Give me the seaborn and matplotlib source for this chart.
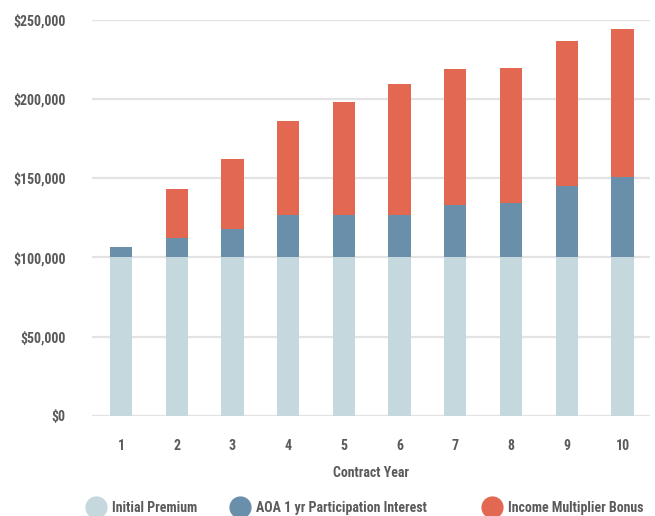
import numpy as np
import pandas as pd
import matplotlib
matplotlib.use('Agg')
import matplotlib.pyplot as plt
from matplotlib.lines import Line2D
from matplotlib.ticker import FuncFormatter
import seaborn as sns

# data
years = [1, 2, 3, 4, 5, 6, 7, 8, 9, 10]
initial_premium = [100000] * 10
aoa_interest = [6600, 12200, 17900, 27100, 27100, 27100, 33200, 34300, 45200, 50700]
multiplier_bonus = [0, 30900, 44100, 59100, 70900, 82200, 85800, 85400, 91400, 93500]
series_names = ['Initial Premium', 'AOA 1 yr Participation Interest', 'Income Multiplier Bonus']

C_PREM = '#C4D8DE'
C_AOA = '#6A8FAA'
C_BONUS = '#E26852'
TXT = '#5A5A5A'

sns.set_theme(style='white')
plt.rcParams['font.family'] = ['Roboto Condensed', 'DejaVu Sans Condensed', 'Liberation Sans Narrow', 'DejaVu Sans']
plt.rcParams['font.weight'] = 'bold'
FS = 10

df = pd.DataFrame({'year': [str(y) for y in years],
                   'prem': initial_premium,
                   'aoa': aoa_interest,
                   'bonus': multiplier_bonus})
df['lvl2'] = df['prem'] + df['aoa']
df['lvl3'] = df['lvl2'] + df['bonus']

fig = plt.figure(figsize=(6.55, 5.16), dpi=100)
ax = fig.add_axes([0.1405, 0.1944, 0.8515, 0.7668])

# overlay cumulative totals back to front -> stacked look
for col, c in [('lvl3', C_BONUS), ('lvl2', C_AOA), ('prem', C_PREM)]:
    sns.barplot(data=df, x='year', y=col, color=c, width=0.4, saturation=1,
                linewidth=0, ax=ax, zorder=3)

ax.set_ylim(0, 250000)
ax.set_xlim(-0.52, 9.49)
ax.set_yticks(np.arange(0, 250001, 50000))
ax.yaxis.set_major_formatter(FuncFormatter(lambda v, p: f'${v:,.0f}'))
ax.grid(axis='y', color='#E3E3E3', linewidth=1.6, zorder=0)
ax.grid(axis='x', visible=False)
sns.despine(ax=ax, left=True, bottom=True, top=True, right=True)
ax.tick_params(axis='y', length=0, pad=19, labelsize=FS, labelcolor=TXT)
ax.tick_params(axis='x', length=0, pad=17, labelsize=FS, labelcolor=TXT)
ax.set_ylabel('')
ax.set_xlabel('Contract Year', fontsize=FS, color=TXT, fontweight='bold', labelpad=9)

# legend, three separate entries to match spacing
colors = [C_PREM, C_AOA, C_BONUS]
xs = [0.125, 0.345, 0.730]
for name, c, x in zip(series_names, colors, xs):
    h = Line2D([], [], marker='o', linestyle='', markersize=15, color=c)
    fig.legend(handles=[h], labels=[name], loc='center left', bbox_to_anchor=(x, 0.015),
               frameon=False, handletextpad=0.15, borderaxespad=0, borderpad=0,
               prop={'size': FS, 'weight': 'bold'}, labelcolor=TXT)

fig.savefig('out.png', dpi=100)
